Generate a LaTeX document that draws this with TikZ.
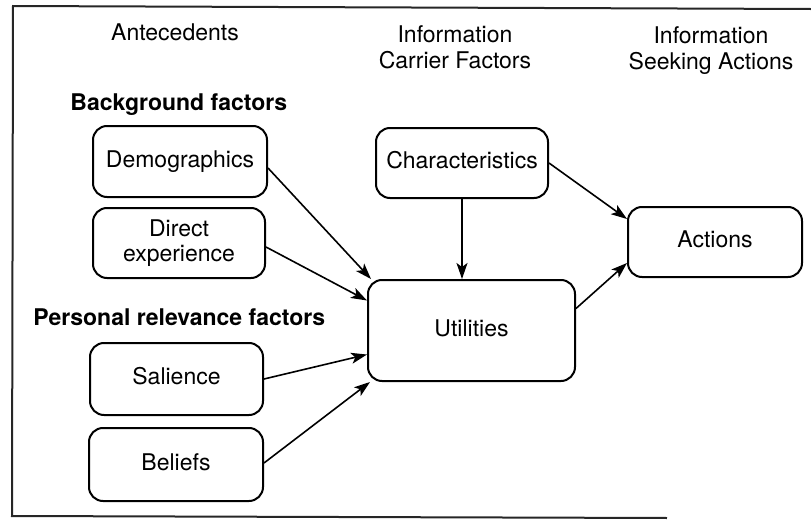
\documentclass[tikz,border=0pt]{standalone}
\usepackage{fontspec}
\setmainfont{TeX Gyre Heros}
\usetikzlibrary{arrows.meta}
\begin{document}
\begin{tikzpicture}[x=0.5pt,y=-0.5pt,
  font=\fontsize{11.5}{12.5}\selectfont,
  framed/.style={line width=1pt, black!85},
  boxbase/.style={draw, line width=1pt, rounded corners=7pt, inner sep=0pt, align=center},
  box/.style={boxbase, text height=8.3pt, text depth=2.8pt},
  link/.style={line width=0.8pt, -{Stealth[length=8pt,width=5.5pt,inset=2pt]}},
  head/.style={inner sep=0pt, font=\fontsize{11.5}{13}\selectfont},
  subhead/.style={inner sep=0pt, font=\fontsize{11.5}{13}\selectfont\bfseries}]
\useasboundingbox (0,0) rectangle (811,520);

% outer frame (open on the right)
\coordinate (ftl) at (13,6);
\coordinate (ftr) at (811,9);
\coordinate (fbl) at (12,516);
\coordinate (fbr) at (667,518);
\draw[framed] (ftr) -- (ftl) -- (fbl) -- (fbr);

% column headings
\node[head, anchor=base] (ante) at (175,40) {Antecedents};
\node[head, align=center, anchor=north] (carrier) at (455,25) {Information\\Carrier Factors};
\node[head, align=center, anchor=north] (seek) at (711,26) {Information\\Seeking Actions};

% group headings
\node[subhead, anchor=base west] (bg) at (70,110) {Background factors};
\node[subhead, anchor=base west] (pr) at (33,325) {Personal relevance factors};

% boxes
\node[box, minimum width=87pt, minimum height=35.5pt] (demo) at (180,161.5) {Demographics};
\node[boxbase, minimum width=86pt, minimum height=35pt] (direct) at (179,243) {Direct\\experience};
\node[box, minimum width=86.5pt, minimum height=36pt] (sal) at (176.5,379) {Salience};
\node[box, minimum width=87pt, minimum height=36.5pt] (bel) at (176,464.5) {Beliefs};
\node[box, minimum width=103.5pt, minimum height=50.5pt] (util) at (471.5,330.5) {Utilities};
\node[box, minimum width=86pt, minimum height=35pt] (char) at (462,163) {Characteristics};
\node[box, minimum width=87pt, minimum height=35pt] (act) at (715,242) {Actions};

% connectors
\draw[link] ([yshift=-3.25pt]demo.east) -- ([xshift=2pt]util.north west);
\draw[link] ([yshift=-2pt]direct.east) -- ([yshift=15pt]util.west);
\draw[link] (sal.east) -- ([yshift=-12pt]util.west);
\draw[link] ([yshift=0.75pt]bel.east) -- ([xshift=1.5pt]util.south west);
\draw[link] (char.south) -- (char.south |- util.north);
\draw[link] (char.east) -- ([yshift=-6.5pt]act.north west);
\draw[link] ([yshift=11pt]util.east) -- ([yshift=7.5pt]act.south west);
\end{tikzpicture}
\end{document}
